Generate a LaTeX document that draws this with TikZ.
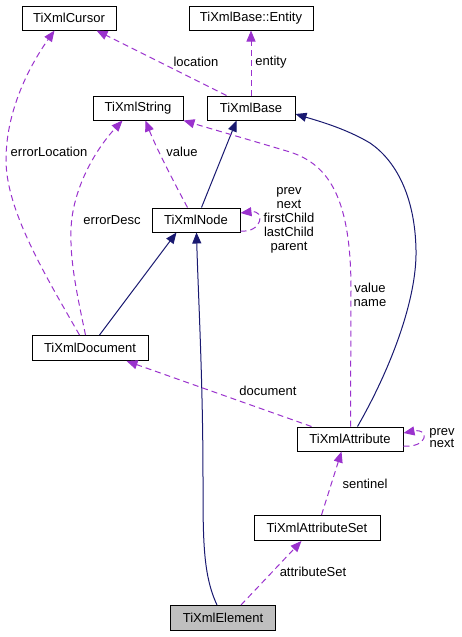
\documentclass[tikz,border=0pt]{standalone}
\usepackage{fontspec}
\setmainfont{Liberation Sans}
\usetikzlibrary{arrows.meta}
\definecolor{navyc}{HTML}{191970}
\definecolor{purp}{HTML}{9A32CD}
\definecolor{elemgrey}{HTML}{BFBFBF}
\begin{document}
\begin{tikzpicture}[x=1pt,y=-1pt,
  every node/.style={font=\fontsize{13}{14}\selectfont},
  cls/.style={draw=black, fill=white, line width=1pt, inner sep=0pt, minimum height=24pt},
  inh/.style={draw=navyc, line width=1pt, -{Triangle[length=11pt,width=9pt]}, navyc},
  use/.style={draw=purp, line width=1pt, dash pattern=on 6pt off 4pt, -{Triangle[length=11pt,width=9pt]}, purp},
  lbl/.style={inner sep=0pt, align=center, text=black}]
\useasboundingbox (0,0) rectangle (462,637);

\node[cls, minimum width=94pt] (cursor) at (69,18) {TiXmlCursor};
\node[cls, minimum width=124pt] (entity) at (251,18) {TiXmlBase::Entity};
\node[cls, minimum width=90pt] (string) at (138,108) {TiXmlString};
\node[cls, minimum width=88pt] (base) at (251,108) {TiXmlBase};
\node[cls, minimum width=88pt] (node) at (196,220) {TiXmlNode};
\node[cls, minimum width=116pt, minimum height=25pt] (doc) at (90,348) {TiXmlDocument};
\node[cls, minimum width=106pt] (attr) at (350,439) {TiXmlAttribute};
\node[cls, minimum width=126pt, minimum height=25pt] (aset) at (317,528) {TiXmlAttributeSet};
\node[cls, minimum width=105pt, minimum height=25pt, fill=elemgrey] (elem) at (223,618) {TiXmlElement};

% inheritance
\draw[inh] ([xshift=50pt]node.north west) -- ([xshift=30pt]base.south west);
\draw[inh] ([xshift=68pt]doc.north west) -- ([xshift=25pt]node.south west);
\draw[inh] ([xshift=47pt]elem.north west) .. controls (203,575) and (203,540) .. (203,480)
  .. controls (203,380) and (198,290) .. ([xshift=45pt]node.south west);
\draw[inh] ([xshift=61pt]attr.north west) .. controls (390,370) and (417,300) .. (416,250)
  .. controls (415,195) and (395,160) .. (370,143)
  .. controls (345,128) and (315,120) .. ([yshift=-6pt]base.east);

% usage
\draw[use] ([xshift=20pt]base.north west) -- ([xshift=75pt]cursor.south west);
\draw[use] (base.north) -- (entity.south);
\draw[use] ([xshift=36pt]node.north west) .. controls (170,175) and (155,145) .. ([xshift=53pt]string.south west);
\draw[use] ([xshift=54pt]attr.north west) -- (351,290)
  .. controls (351,200) and (330,165) .. (290,152)
  .. controls (250,140) and (215,130) .. (string.south east);
\draw[use] ([xshift=54pt]doc.north west) .. controls (76,290) and (70,260) .. (71,230)
  .. controls (72,190) and (95,150) .. ([xshift=30pt]string.south west);
\draw[use] ([xshift=48pt]doc.north west) .. controls (45,275) and (6,210) .. (6,160)
  .. controls (6,110) and (30,65) .. ([xshift=33pt]cursor.south west);
\draw[use] ([xshift=15pt]attr.north west) -- ([xshift=-22pt]doc.south east);
\draw[use] ([xshift=68pt]aset.north west) -- ([xshift=45pt]attr.south west);
\draw[use] ([xshift=71pt]elem.north west) -- ([xshift=48pt]aset.south west);
\draw[use] ([yshift=-11pt]node.east) .. controls (262,233) and (266,210) .. ([yshift=7pt]node.east);
\draw[use] ([yshift=-7pt]attr.east) .. controls (428,448) and (430,428) .. ([yshift=6pt]attr.east);

% labels
\node[lbl] (l1) at (196,62) {location};
\node[lbl] (l2) at (271,62) {entity};
\node[lbl] (l3) at (182,152) {value};
\node[lbl] (l4) at (49,152) {errorLocation};
\node[lbl] (l5) at (112,220) {errorDesc};
\node[lbl] (l6) at (289,220) {prev\\next\\firstChild\\lastChild\\parent};
\node[lbl] (l7) at (370,295) {value\\name};
\node[lbl] (l8) at (268,391) {document};
\node[lbl] (l9) at (365,484) {sentinel};
\node[lbl] (l10) at (313,572) {attributeSet};
\node[lbl, font=\fontsize{13}{12}\selectfont] (l11) at (442,438) {prev\\next};
\end{tikzpicture}
\end{document}
